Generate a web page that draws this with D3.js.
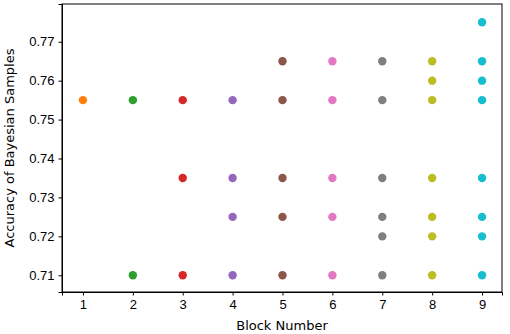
<!DOCTYPE html>
<html>
<head>
<meta charset="utf-8">
<script src="https://cdn.jsdelivr.net/npm/d3@7"></script>
<style>
  body { margin: 0; background: #fff; }
  svg { display: block; font-family: "DejaVu Sans", sans-serif; }
  .axis text { font-size: 13px; fill: #000; }
  .axis path, .axis line { stroke: #000; stroke-width: 1; }
</style>
</head>
<body>
<svg id="chart" width="510" height="334"></svg>
<script>
const blocks = [1, 2, 3, 4, 5, 6, 7, 8, 9];
const accuracies = [
  [0.755],
  [0.755, 0.71],
  [0.755, 0.735, 0.71],
  [0.755, 0.735, 0.725, 0.71],
  [0.765, 0.755, 0.735, 0.725, 0.71],
  [0.765, 0.755, 0.735, 0.725, 0.71],
  [0.765, 0.755, 0.735, 0.725, 0.72, 0.71],
  [0.765, 0.76, 0.755, 0.735, 0.725, 0.72, 0.71],
  [0.775, 0.765, 0.76, 0.755, 0.735, 0.725, 0.72, 0.71]
];
const blockColors = ["#ff7f0e", "#2ca02c", "#d62728", "#9467bd", "#8c564b", "#e377c2", "#7f7f7f", "#bcbd22", "#17becf"];
const yTicks = [0.71, 0.72, 0.73, 0.74, 0.75, 0.76, 0.77];

const svg = d3.select("#chart");
const m = { left: 62, right: 502, top: 4, bottom: 292 };

const x = d3.scaleLinear().domain([0.58, 9.4]).range([m.left, m.right]);
const y = d3.scaleLinear().domain([0.7057, 0.7797]).range([m.bottom, m.top]);

// points
const pts = [];
blocks.forEach((b, i) => accuracies[i].forEach(a => pts.push({ b, a, c: blockColors[i] })));
svg.append("g").selectAll("circle").data(pts).join("circle")
  .attr("cx", d => x(d.b)).attr("cy", d => y(d.a)).attr("r", 4.2)
  .attr("fill", d => d.c);

// axes
svg.append("g").attr("class", "axis").attr("transform", `translate(0,${m.bottom})`)
  .call(d3.axisBottom(x).tickValues(blocks).tickFormat(d3.format("d")).tickSizeOuter(0).tickSize(3.5).tickPadding(4));
svg.append("g").attr("class", "axis").attr("transform", `translate(${m.left},0)`)
  .call(d3.axisLeft(y).tickValues(yTicks).tickFormat(d3.format(".2f")).tickSizeOuter(0).tickSize(3.5).tickPadding(4));

// frame
svg.append("rect").attr("x", m.left).attr("y", m.top)
  .attr("width", m.right - m.left).attr("height", m.bottom - m.top)
  .attr("fill", "none").attr("stroke", "#000").attr("stroke-width", 1);

svg.append("text").attr("x", (m.left + m.right) / 2).attr("y", 330)
  .attr("text-anchor", "middle").style("font-size", "13px").text("Block Number");
svg.append("text").attr("transform", `translate(14,${(m.top + m.bottom) / 2}) rotate(-90)`)
  .attr("text-anchor", "middle").style("font-size", "13px").text("Accuracy of Bayesian Samples");
</script>
</body>
</html>
